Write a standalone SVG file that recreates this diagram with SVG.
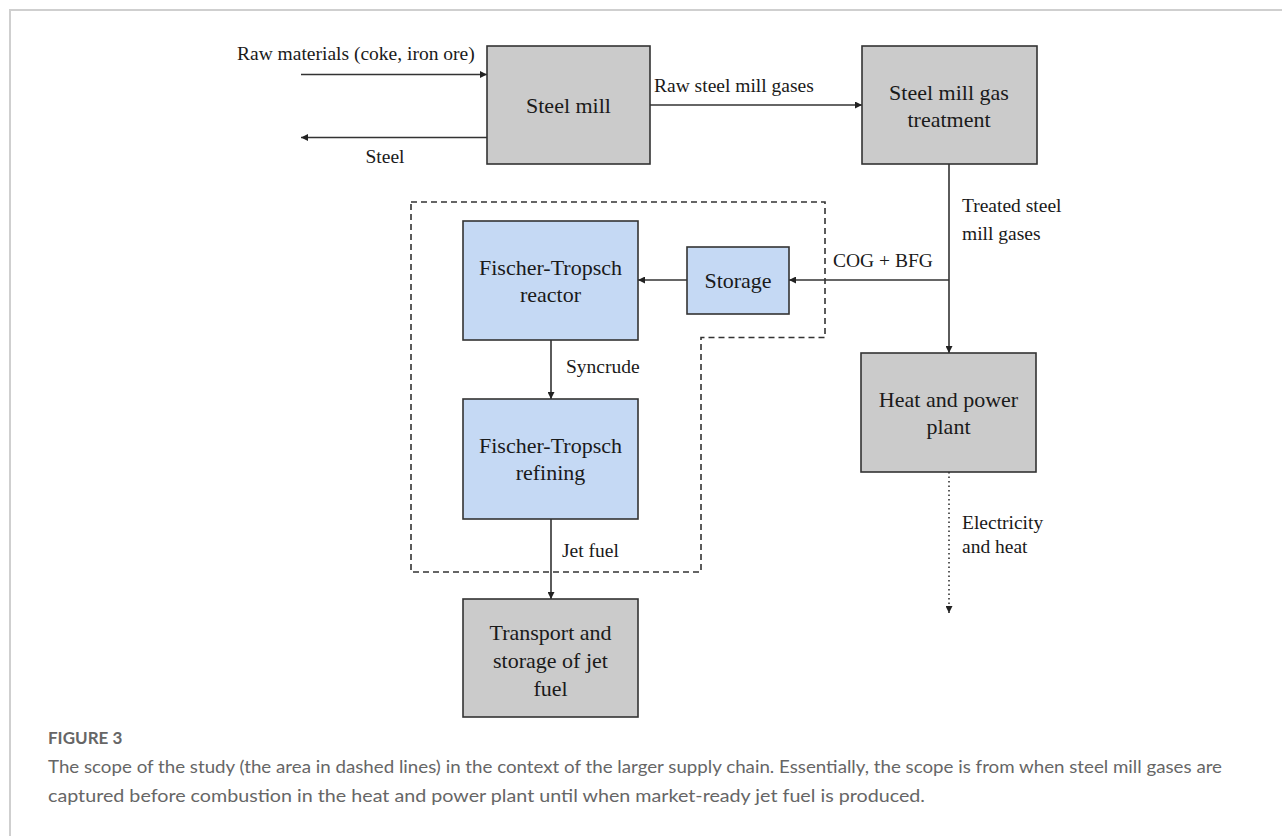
<svg xmlns="http://www.w3.org/2000/svg" width="1282" height="836" viewBox="0 0 1282 836">
<style>
.box{stroke:#333;stroke-width:1.6}
.grey{fill:#cbcbcb}
.blue{fill:#c5d9f4}
.bt{font-family:"Liberation Serif","Times New Roman",serif;font-size:22px;fill:#1a1a1a;text-anchor:middle}
.lb{font-family:"Liberation Serif","Times New Roman",serif;font-size:19.5px;fill:#1a1a1a}
.ln{stroke:#333;stroke-width:1.6;fill:none}
.cap{font-family:Lato,"Open Sans",sans-serif;fill:#666}
</style>
<defs>
<marker id="ah" viewBox="0 0 10 10" refX="10" refY="5" markerWidth="9" markerHeight="7" markerUnits="userSpaceOnUse" orient="auto">
<path d="M0,0 L10,5 L0,10 z" fill="#222"/>
</marker>
</defs>
<rect width="1282" height="836" fill="#fff"/>
<path d="M10,836 V10 H1282" fill="none" stroke="#cfcfcf" stroke-width="2"/>

<g id="connectors">
<line class="ln" x1="301" y1="74.5" x2="487" y2="74.5" marker-end="url(#ah)"/>
<line class="ln" x1="487" y1="137.5" x2="301" y2="137.5" marker-end="url(#ah)"/>
<line class="ln" x1="650" y1="105" x2="862" y2="105" marker-end="url(#ah)"/>
<line class="ln" x1="949" y1="164" x2="949" y2="353" marker-end="url(#ah)"/>
<line class="ln" x1="949" y1="280" x2="789" y2="280" marker-end="url(#ah)"/>
<line class="ln" x1="687" y1="280" x2="638" y2="280" marker-end="url(#ah)"/>
<line class="ln" x1="551" y1="340" x2="551" y2="399" marker-end="url(#ah)"/>
<line class="ln" x1="551" y1="519" x2="551" y2="599" marker-end="url(#ah)"/>
<line class="ln" x1="949" y1="472" x2="949" y2="613" stroke-dasharray="1.5 3" marker-end="url(#ah)"/>
<path class="ln" d="M411,202 H825 V337.5 H701 V572 H411 Z" stroke-dasharray="6 4" stroke-width="1.5"/>
<text class="lb" x="237" y="60">Raw materials (coke, iron ore)</text>
<text class="lb" x="385" y="163" text-anchor="middle">Steel</text>
<text class="lb" x="654" y="92">Raw steel mill gases</text>
<text class="lb" x="962" y="212">Treated steel</text>
<text class="lb" x="962" y="240">mill gases</text>
<text class="lb" x="833" y="267">COG + BFG</text>
<text class="lb" x="566" y="373">Syncrude</text>
<text class="lb" x="562" y="557">Jet fuel</text>
<text class="lb" x="962" y="529">Electricity</text>
<text class="lb" x="962" y="553">and heat</text>
</g>

<g id="steel-mill">
<rect class="box grey" x="487" y="46" width="163" height="118"/>
<text class="bt" x="568.5" y="113">Steel mill</text>
</g>
<g id="gas-treatment">
<rect class="box grey" x="862" y="46" width="175" height="118"/>
<text class="bt" x="949" y="100">Steel mill gas</text>
<text class="bt" x="949" y="127">treatment</text>
</g>
<g id="ft-reactor">
<rect class="box blue" x="463" y="221" width="175" height="119"/>
<text class="bt" x="550.5" y="275">Fischer-Tropsch</text>
<text class="bt" x="550.5" y="302">reactor</text>
</g>
<g id="storage">
<rect class="box blue" x="687" y="247" width="102" height="67"/>
<text class="bt" x="738" y="288">Storage</text>
</g>
<g id="ft-refining">
<rect class="box blue" x="463" y="399" width="175" height="120"/>
<text class="bt" x="550.5" y="453">Fischer-Tropsch</text>
<text class="bt" x="550.5" y="480">refining</text>
</g>
<g id="heat-power">
<rect class="box grey" x="861" y="353" width="175" height="119"/>
<text class="bt" x="948.5" y="407">Heat and power</text>
<text class="bt" x="948.5" y="434">plant</text>
</g>
<g id="transport">
<rect class="box grey" x="463" y="599" width="175" height="118"/>
<text class="bt" x="550.5" y="640">Transport and</text>
<text class="bt" x="550.5" y="668">storage of jet</text>
<text class="bt" x="550.5" y="696">fuel</text>
</g>

<g id="caption">
<text class="cap" x="48" y="744" font-size="17" font-weight="bold" fill="#555">FIGURE 3</text>
<text class="cap" x="48" y="773" font-size="17" textLength="1174" lengthAdjust="spacingAndGlyphs">The scope of the study (the area in dashed lines) in the context of the larger supply chain. Essentially, the scope is from when steel mill gases are</text>
<text class="cap" x="48" y="802" font-size="17" textLength="877" lengthAdjust="spacingAndGlyphs">captured before combustion in the heat and power plant until when market-ready jet fuel is produced.</text>
</g>
</svg>
